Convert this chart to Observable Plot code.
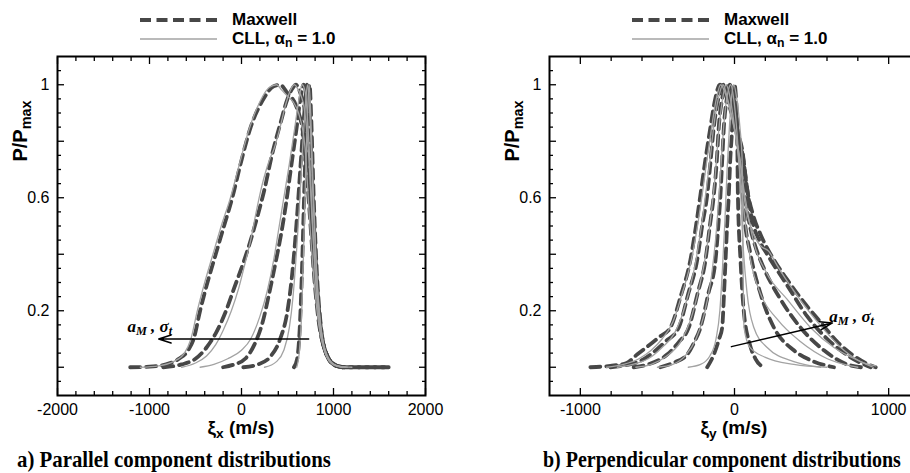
<!DOCTYPE html>
<html><head><meta charset="utf-8">
<script src="https://cdn.jsdelivr.net/npm/d3@7"></script>
<script src="https://cdn.jsdelivr.net/npm/@observablehq/plot@0.6"></script>
<style>
html,body{margin:0;padding:0;background:#fff;overflow:hidden}
#wrap{position:relative;width:910px;height:473px;overflow:hidden;font-family:"Liberation Sans",Arial,sans-serif;color:#000}
.abs{position:absolute;white-space:nowrap;line-height:1}
.b{font-weight:bold}
.c{transform:translate(-50%,-50%)}
.lm{transform:translate(0,-50%)}
.rot{transform:translate(-50%,-50%) rotate(-90deg)}
.cap{font-family:"Liberation Serif","Times New Roman",serif;font-weight:bold;font-size:24px;transform-origin:0 50%}
.ann{font-family:"Liberation Serif","Times New Roman",serif;font-style:italic;font-size:17px;font-weight:bold}
sub{font-size:72%;vertical-align:-0.3em;line-height:0}
</style></head><body><div id="wrap"></div>
<script>
// ---------- data ----------
// Panel a) parallel component xi_x (m/s) vs P/Pmax : Maxwell (dashed) and CLL (solid) curves
const parM1 = [[-1210,0],[-1000,0.002],[-820,0.01],[-680,0.03],[-580,0.06],[-520,0.1],[-450,0.2],[-370,0.3],[-280,0.4],[-190,0.5],[-100,0.6],[-10,0.72],[100,0.85],[240,0.95],[350,0.995],[420,1],[500,0.97],[600,0.92],[680,0.8],[740,0.55],[790,0.32],[840,0.16],[900,0.07],[970,0.02],[1060,0.003],[1150,0],[1600,0]];
const parM2 = [[-850,0],[-650,0.01],[-500,0.03],[-380,0.07],[-280,0.12],[-180,0.19],[-80,0.28],[20,0.37],[100,0.45],[170,0.53],[250,0.63],[330,0.75],[420,0.86],[500,0.95],[560,0.99],[590,1],[640,0.97],[700,0.88],[750,0.6],[800,0.32],[860,0.13],[930,0.04],[1010,0.01],[1100,0]];
const parM3 = [[-200,0],[-80,0.01],[40,0.03],[140,0.08],[230,0.16],[300,0.26],[370,0.37],[430,0.47],[480,0.57],[540,0.71],[600,0.85],[640,0.95],[675,1],[705,0.96],[745,0.72],[795,0.38],[850,0.15],[920,0.05],[1000,0.01],[1100,0]];
const parM4 = [[20,0],[180,0.01],[320,0.04],[420,0.1],[500,0.2],[560,0.36],[605,0.54],[645,0.73],[685,0.91],[712,1],[738,0.92],[775,0.6],[820,0.3],[870,0.12],[940,0.035],[1030,0.005],[1120,0]];
const parM5 = [[570,0],[605,0.03],[630,0.12],[655,0.32],[680,0.6],[705,0.85],[725,0.97],[740,1],[758,0.88],[785,0.6],[820,0.33],[865,0.14],[930,0.04],[1010,0.008],[1100,0],[1600,0]];
const parC1 = [[-1100,0],[-900,0.005],[-740,0.02],[-620,0.05],[-550,0.1],[-480,0.2],[-400,0.3],[-310,0.4],[-220,0.5],[-120,0.6],[-30,0.71],[80,0.84],[200,0.94],[300,0.99],[380,1],[440,0.98],[500,0.96],[560,0.94],[620,0.9],[690,0.78],[740,0.52],[790,0.3],[840,0.15],[900,0.06],[980,0.015],[1080,0.002],[1200,0]];
const parC2 = [[-650,0],[-500,0.015],[-380,0.04],[-280,0.08],[-200,0.13],[-110,0.2],[-30,0.28],[40,0.37],[100,0.45],[160,0.55],[220,0.64],[270,0.7],[310,0.74],[350,0.77],[420,0.85],[480,0.93],[530,0.98],[575,1],[620,0.98],[680,0.92],[730,0.75],[775,0.48],[825,0.24],[880,0.1],[950,0.03],[1040,0.005],[1150,0]];
const parC3 = [[-450,0],[-300,0.01],[-150,0.03],[0,0.06],[100,0.1],[200,0.18],[280,0.27],[350,0.38],[410,0.5],[460,0.6],[520,0.72],[580,0.85],[625,0.95],[660,1],[695,0.97],[735,0.78],[785,0.42],[840,0.17],[910,0.05],[990,0.01],[1100,0]];
const parC4 = [[250,0],[380,0.02],[460,0.06],[520,0.14],[560,0.25],[600,0.42],[635,0.6],[665,0.78],[695,0.93],[718,1],[742,0.9],[778,0.6],[825,0.28],[875,0.11],[945,0.03],[1040,0.004],[1130,0]];
const parC5 = [[600,0],[630,0.06],[655,0.2],[678,0.45],[700,0.72],[720,0.92],[735,1],[752,0.9],[780,0.62],[815,0.35],[860,0.15],[925,0.045],[1000,0.01],[1100,0]];

// Panel b) perpendicular component xi_y (m/s)
const perM1 = [[-935,0],[-805,0.005],[-700,0.015],[-632,0.045],[-550,0.08],[-480,0.11],[-416,0.14],[-350,0.25],[-286,0.38],[-250,0.5],[-221,0.61],[-190,0.73],[-156,0.85],[-125,0.95],[-95,1],[-60,0.97],[-20,0.9],[20,0.83],[50,0.77],[82,0.63],[120,0.54],[169,0.47],[256,0.38],[342,0.31],[450,0.23],[558,0.16],[667,0.09],[775,0.04],[850,0.015],[916,0]];
const perM2 = [[-805,0],[-700,0.008],[-620,0.02],[-545,0.045],[-450,0.09],[-362,0.14],[-300,0.26],[-242,0.38],[-210,0.5],[-177,0.61],[-155,0.73],[-134,0.85],[-105,0.95],[-73,1],[-40,0.96],[0,0.88],[30,0.8],[50,0.76],[80,0.64],[115,0.52],[160,0.45],[212,0.4],[342,0.29],[472,0.18],[602,0.1],[700,0.055],[753,0.035],[883,0]];
const perM3 = [[-654,0],[-560,0.01],[-437,0.045],[-360,0.09],[-297,0.14],[-240,0.26],[-188,0.38],[-160,0.5],[-134,0.61],[-115,0.73],[-102,0.85],[-80,0.95],[-52,1],[-25,0.95],[10,0.85],[30,0.75],[50,0.67],[75,0.58],[104,0.49],[140,0.42],[191,0.35],[299,0.24],[429,0.14],[580,0.06],[732,0.01],[820,0]];
const perM4 = [[-481,0],[-400,0.015],[-307,0.045],[-260,0.09],[-221,0.14],[-170,0.26],[-123,0.38],[-105,0.5],[-91,0.61],[-80,0.73],[-69,0.85],[-50,0.95],[-30,1],[-5,0.95],[20,0.85],[39,0.73],[61,0.55],[104,0.4],[169,0.26],[256,0.14],[385,0.06],[515,0.02],[645,0]];
const perM5 = [[-177,0],[-134,0.045],[-100,0.1],[-80,0.14],[-68,0.26],[-58,0.38],[-48,0.5],[-37,0.61],[-28,0.73],[-15,0.85],[-8,0.95],[0,1],[10,0.95],[17,0.85],[22,0.61],[39,0.38],[60,0.2],[100,0.08],[136,0.03],[190,0]];
const perC1 = [[-830,0],[-720,0.01],[-620,0.03],[-540,0.06],[-470,0.1],[-400,0.16],[-340,0.26],[-280,0.38],[-240,0.5],[-210,0.61],[-180,0.73],[-148,0.85],[-118,0.95],[-90,1],[-60,0.97],[-25,0.9],[15,0.8],[45,0.7],[61,0.61],[104,0.5],[169,0.43],[223,0.41],[277,0.36],[385,0.27],[494,0.19],[602,0.12],[710,0.06],[818,0.02],[916,0.005]];
const perC2 = [[-760,0],[-660,0.01],[-560,0.03],[-470,0.07],[-390,0.12],[-330,0.2],[-260,0.35],[-220,0.48],[-190,0.6],[-160,0.73],[-135,0.85],[-105,0.95],[-75,1],[-45,0.95],[-10,0.87],[25,0.77],[50,0.67],[126,0.44],[212,0.33],[342,0.24],[494,0.14],[645,0.07],[818,0.02],[900,0]];
const perC3 = [[-640,0],[-540,0.01],[-440,0.04],[-350,0.09],[-290,0.16],[-230,0.28],[-180,0.42],[-150,0.55],[-125,0.68],[-105,0.82],[-80,0.94],[-55,1],[-30,0.96],[0,0.85],[30,0.72],[50,0.61],[104,0.38],[169,0.26],[277,0.17],[429,0.09],[602,0.03],[753,0.005],[800,0]];
const perC4 = [[-500,0],[-400,0.01],[-320,0.04],[-250,0.1],[-200,0.18],[-150,0.32],[-115,0.5],[-95,0.65],[-80,0.78],[-62,0.9],[-40,0.98],[-25,1],[-5,0.95],[20,0.8],[40,0.62],[50,0.49],[82,0.26],[126,0.14],[212,0.07],[385,0.02],[559,0]];
const perC5 = [[-300,0],[-220,0.01],[-160,0.04],[-120,0.1],[-95,0.2],[-78,0.35],[-62,0.52],[-48,0.7],[-32,0.86],[-18,0.96],[-5,1],[15,0.95],[35,0.85],[50,0.73],[55,0.38],[62,0.14],[100,0.07],[200,0.035],[385,0.01],[600,0]];

// Arrows (trend of a_M, sigma_t)
const parArrow = [{x1: 730, y1: 0.1, x2: -900, y2: 0.1}];
const perArrow = [{x1: -20, y1: 0.073, x2: 635, y2: 0.157}];
const parArrowLabel = {x: -1235, y: 0.145};
const perArrowLabel = {x: 618, y: 0.178};

// Axes / ticks
const parXDomain = [-2000, 2000];
const parXMajor = [-2000, -1000, 0, 1000, 2000];
const parXMinor = [-1800,-1600,-1400,-1200,-800,-600,-400,-200,200,400,600,800,1200,1400,1600,1800];
const parXLabels = [-2000, -1000, 0, 1000, 2000];
const perXDomain = [-1200, 1200];
const perXMajor = [-1000, 0, 1000];
const perXMinor = [-800,-600,-400,-200,200,400,600,800];
const perXLabels = [-1000, 0, 1000];
const yDomain = [-0.1, 1.1];
const yMajor = [0, 0.2, 0.4, 0.6, 0.8, 1];
const yMinor = [-0.05,0.05,0.1,0.15,0.25,0.3,0.35,0.45,0.5,0.55,0.65,0.7,0.75,0.85,0.9,0.95,1.05];
const yLabels = [0.2, 0.6, 1];

// Text
const legendLabels = ["Maxwell", "CLL, &alpha;<sub>n</sub> = 1.0"];
const parXTitle = "&xi;<sub>x</sub> (m/s)";
const perXTitle = "&xi;<sub>y</sub> (m/s)";
const yTitle = "P/P<sub>max</sub>";
const arrowLabel = "a<sub>M</sub> , &sigma;<sub>t</sub>";
const captions = ["a) Parallel component distributions", "b) Perpendicular component distributions"];

// ---------- drawing ----------
const wrap = document.getElementById("wrap");
const DASH_COLOR = "#474747", SOLID_COLOR = "#a3a3a3";

function rows(curves) {
  return curves.flatMap((c, i) => c.map(([x, y]) => ({x, y, id: i})));
}

function panel(cfg) {
  const tk = {stroke: "#000", strokeWidth: 1.3, fill: "none", label: null, tickFormat: () => ""};
  const chart = Plot.plot({
    width: cfg.width, height: 440,
    marginLeft: cfg.marginLeft, marginRight: cfg.marginRight, marginTop: 56, marginBottom: 45,
    x: {domain: cfg.xDomain},
    y: {domain: yDomain},
    style: {fontFamily: '"Liberation Sans", Arial, sans-serif', fontSize: "16px", color: "#000", background: "transparent"},
    marks: [
      Plot.line(rows(cfg.maxwell), {x: "x", y: "y", z: "id", stroke: DASH_COLOR, strokeWidth: 3.8, strokeDasharray: "10,6", curve: "monotone-x"}),
      Plot.line(rows(cfg.cll), {x: "x", y: "y", z: "id", stroke: SOLID_COLOR, strokeWidth: 1.3, curve: "monotone-x"}),
      Plot.axisX(cfg.xMinor, {anchor: "bottom", tickSize: -4, ...tk}),
      Plot.axisX(cfg.xMajor, {anchor: "bottom", tickSize: -7, ...tk}),
      Plot.axisX(cfg.xMinor, {anchor: "top", tickSize: -4, ...tk}),
      Plot.axisX(cfg.xMajor, {anchor: "top", tickSize: -7, ...tk}),
      Plot.axisY(yMinor, {anchor: "left", tickSize: -4, ...tk}),
      Plot.axisY(yMajor, {anchor: "left", tickSize: -7, ...tk}),
      Plot.axisY(yMinor, {anchor: "right", tickSize: -4, ...tk}),
      Plot.axisY(yMajor, {anchor: "right", tickSize: -7, ...tk}),
      Plot.axisX(cfg.xLabels, {anchor: "bottom", tickSize: 0, tickPadding: 8, tickFormat: d => String(d), label: null, fontSize: 16}),
      Plot.axisY(yLabels, {anchor: "left", tickSize: 0, tickPadding: 8, tickFormat: d => String(d), label: null, fontSize: 16}),
      Plot.frame({stroke: "#000", strokeWidth: 2}),
      Plot.arrow(cfg.arrow, {x1: "x1", y1: "y1", x2: "x2", y2: "y2", stroke: "#000", strokeWidth: 1.5, headLength: 13, headAngle: 36})
    ]
  });
  chart.style.position = "absolute";
  chart.style.left = cfg.left + "px";
  chart.style.top = "0px";
  wrap.appendChild(chart);

  const sx = chart.scale("x"), sy = chart.scale("y");
  const x0 = cfg.left + sx.apply(0);
  const frameLeft = cfg.left + cfg.marginLeft;

  add(`<span class="b" style="font-size:19px">${cfg.xTitle}</span>`, x0, 427, "c");
  add(`<span class="b" style="font-size:20px">${yTitle}</span>`, frameLeft - 37, 131, "rot");
  add(`<span class="ann">${arrowLabel}</span>`, cfg.left + sx.apply(cfg.arrowLabel.x), sy.apply(cfg.arrowLabel.y), "lm");

  // legend
  const lx1 = cfg.legendX, tx = cfg.legendX + 92;
  const svg = d3.create("svg").attr("width", 80).attr("height", 44)
    .style("position", "absolute").style("left", lx1 + "px").style("top", "0px");
  svg.append("line").attr("x1", 0).attr("x2", 77).attr("y1", 20).attr("y2", 20)
    .attr("stroke", DASH_COLOR).attr("stroke-width", 4).attr("stroke-dasharray", "11,5.5");
  svg.append("line").attr("x1", 0).attr("x2", 77).attr("y1", 39).attr("y2", 39)
    .attr("stroke", SOLID_COLOR).attr("stroke-width", 1.3);
  wrap.appendChild(svg.node());
  add(`<span class="b" style="font-size:17px">${legendLabels[0]}</span>`, tx, 19, "lm");
  add(`<span class="b" style="font-size:17px">${legendLabels[1]}</span>`, tx, 38, "lm");

  // caption, condensed to the width it spans in the figure
  const cap = add(captions[cfg.index], cfg.captionX, 459, "cap");
  const natural = cap.getBoundingClientRect().width;
  cap.style.transform = `translate(0,-50%) scaleX(${(cfg.captionW / natural).toFixed(3)})`;
}

function add(html, x, y, cls) {
  const d = document.createElement("div");
  d.className = "abs " + cls;
  d.style.left = x + "px";
  d.style.top = y + "px";
  d.innerHTML = html;
  wrap.appendChild(d);
  return d;
}

panel({index: 0, left: 0, width: 455, marginLeft: 57, marginRight: 30,
  xDomain: parXDomain, xMajor: parXMajor, xMinor: parXMinor, xLabels: parXLabels,
  maxwell: [parM1, parM2, parM3, parM4, parM5], cll: [parC1, parC2, parC3, parC4, parC5],
  arrow: parArrow, arrowLabel: parArrowLabel, xTitle: parXTitle, legendX: 140, captionX: 17, captionW: 314});

panel({index: 1, left: 455, width: 470, marginLeft: 94, marginRight: 6,
  xDomain: perXDomain, xMajor: perXMajor, xMinor: perXMinor, xLabels: perXLabels,
  maxwell: [perM1, perM2, perM3, perM4, perM5], cll: [perC1, perC2, perC3, perC4, perC5],
  arrow: perArrow, arrowLabel: perArrowLabel, xTitle: perXTitle, legendX: 632, captionX: 543, captionW: 358});
</script>
</body></html>
